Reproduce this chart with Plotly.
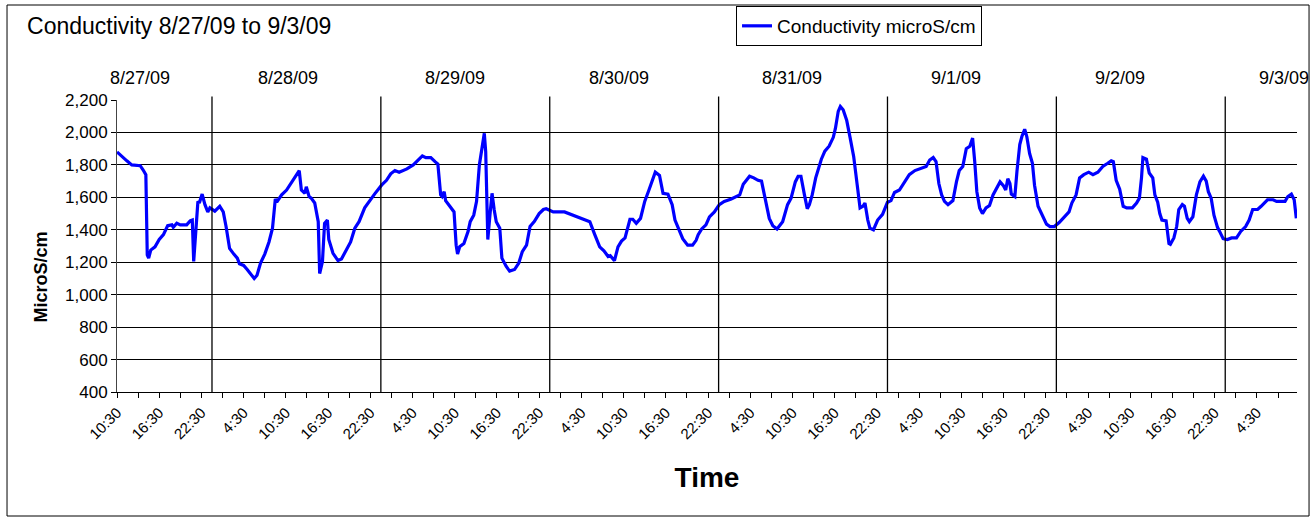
import pandas as pd
import plotly.graph_objects as go

# conductivity readings
# hours counted from the first reading (8/27/09 10:30)
start = pd.Timestamp("2009-08-27 10:30")
hours = [
    0.0, 0.7, 1.4, 2.1, 3.3, 3.7, 4.1, 4.3, 4.5, 4.8, 5.4, 6.0, 6.6, 7.2, 7.8, 8.0,
    8.5, 9.0, 9.9, 10.4, 10.7, 10.9, 11.5, 11.7, 12.1, 12.5, 12.9, 13.2, 13.9, 14.6,
    15.1, 15.5, 16.0, 16.6, 17.1, 17.4, 18.0, 18.5, 19.5, 19.9, 20.4, 21.0, 21.6,
    22.1, 22.5, 22.7, 23.4, 24.1, 24.8, 25.4, 25.9, 26.2, 26.7, 26.9, 27.3, 27.6,
    28.1, 28.6, 28.8, 29.2, 29.5, 29.9, 30.1, 30.7, 31.4, 31.9, 32.6, 33.2, 33.8,
    34.4, 35.2, 35.9, 36.6, 37.6, 38.3, 38.9, 39.5, 40.1, 40.7, 41.2, 42.1, 42.8,
    43.4, 43.9, 44.6, 45.2, 45.6, 46.0, 46.2, 46.5, 46.7, 47.3, 47.9, 48.2, 48.4,
    48.7, 49.3, 49.9, 50.2, 50.7, 51.1, 51.5, 51.9, 52.2, 52.4, 52.7, 53.0, 53.3,
    53.6, 53.9, 54.4, 54.7, 55.3, 55.8, 56.5, 57.1, 57.6, 58.2, 58.7, 59.3, 60.0,
    60.6, 61.0, 62.0, 63.6, 64.8, 66.0, 67.2, 67.9, 68.6, 69.2, 69.8, 70.1, 70.7,
    71.2, 71.7, 72.2, 72.9, 73.3, 73.8, 74.4, 75.0, 75.6, 76.1, 76.5, 77.1, 77.6,
    78.3, 78.9, 79.3, 79.9, 80.4, 81.1, 81.8, 82.3, 82.6, 83.1, 83.7, 84.2, 84.9,
    85.6, 86.3, 87.3, 88.0, 88.5, 89.0, 89.4, 89.9, 90.5, 91.1, 91.6, 92.1, 92.7,
    93.2, 93.8, 94.6, 95.3, 95.8, 96.4, 96.8, 97.2, 97.7, 98.1, 98.4, 98.8, 99.3,
    99.8, 100.1, 100.6, 101.2, 101.8, 102.1, 102.5, 102.8, 103.2, 103.7, 104.2,
    104.7, 105.2, 105.6, 106.0, 106.3, 106.7, 107.0, 107.5, 108.1, 108.8, 109.5,
    110.0, 110.5, 111.2, 111.9, 112.6, 113.4, 114.3, 115.0, 115.5, 116.0, 116.4,
    116.8, 117.2, 117.6, 118.1, 118.8, 119.3, 119.7, 120.2, 120.7, 121.2, 121.6,
    121.9, 122.2, 122.6, 123.0, 123.5, 124.0, 124.5, 125.0, 125.5, 126.0, 126.3,
    126.6, 126.9, 127.1, 127.6, 127.9, 128.3, 128.6, 129.0, 129.3, 129.7, 130.1,
    130.4, 130.9, 131.5, 132.1, 132.6, 133.2, 133.9, 134.6, 135.3, 135.7, 136.3,
    136.8, 137.4, 138.1, 138.7, 139.4, 140.1, 140.8, 141.3, 141.6, 142.0, 142.5,
    143.0, 143.5, 144.3, 144.9, 145.3, 145.6, 145.8, 146.3, 146.7, 147.2, 147.5,
    147.9, 148.2, 148.5, 149.1, 149.5, 149.7, 150.2, 150.6, 150.9, 151.4, 151.7,
    152.1, 152.4, 152.9, 153.4, 153.9, 154.4, 154.8, 155.1, 155.5, 155.9, 156.4,
    156.7, 157.2, 157.8, 158.4, 159.1, 159.7, 160.4, 160.9, 161.4, 162.1, 162.6,
    163.1, 163.5, 164.3, 164.8, 166.0, 166.4, 166.9, 167.3, 167.6,
]
conductivity = [
    1880, 1850, 1825, 1800, 1795, 1770, 1740, 1245, 1225, 1275, 1295, 1340, 1370, 1425, 1430, 1415,
    1440, 1430, 1430, 1455, 1460, 1205, 1575, 1565, 1620, 1555, 1510, 1535, 1515, 1545,
    1510, 1420, 1285, 1250, 1225, 1190, 1180, 1155, 1100, 1120, 1195, 1250, 1325,
    1410, 1590, 1570, 1615, 1645, 1695, 1730, 1765, 1645, 1625, 1665, 1605, 1595,
    1565, 1450, 1130, 1205, 1440, 1460, 1340, 1255, 1210, 1220, 1280, 1325, 1410,
    1450, 1535, 1580, 1620, 1675, 1705, 1745, 1765, 1755, 1765, 1775, 1800, 1830,
    1855, 1845, 1845, 1820, 1805, 1615, 1605, 1635, 1580, 1545, 1510, 1305, 1250,
    1295, 1315, 1390, 1450, 1490, 1575, 1800, 1900, 1995, 1880, 1340, 1490, 1625,
    1525, 1450, 1410, 1225, 1175, 1145, 1155, 1195, 1265, 1305, 1420, 1450, 1500,
    1525, 1530, 1510, 1510, 1490, 1470, 1450, 1370, 1295, 1270, 1235, 1240, 1210,
    1295, 1330, 1350, 1465, 1465, 1440, 1470, 1575, 1645, 1705, 1755, 1735, 1625,
    1620, 1555, 1460, 1400, 1345, 1305, 1305, 1335, 1370, 1405, 1430, 1480, 1510,
    1555, 1575, 1590, 1605, 1615, 1680, 1700, 1730, 1720, 1705, 1700, 1595, 1470,
    1425, 1405, 1450, 1555, 1595, 1695, 1730, 1730, 1615, 1530, 1555, 1615, 1720,
    1790, 1835, 1885, 1915, 1970, 2025, 2130, 2160, 2140, 2075, 1965,
    1850, 1675, 1535, 1545, 1565, 1460, 1410, 1400, 1460, 1495, 1570,
    1580, 1630, 1645, 1695, 1740, 1765, 1780, 1790, 1830, 1845, 1820,
    1685, 1615, 1575, 1555, 1580, 1695, 1765, 1790, 1900, 1915, 1965,
    1820, 1635, 1535, 1500, 1535, 1550, 1615, 1660, 1695, 1670, 1645,
    1715, 1685, 1620, 1605, 1760, 1925, 1975, 2020, 1975, 1870, 1810,
    1675, 1545, 1490, 1435, 1420, 1420, 1445, 1480, 1510, 1565, 1615,
    1720, 1740, 1755, 1740, 1755, 1790, 1810, 1825, 1820, 1705, 1650,
    1545, 1535, 1535, 1565, 1595, 1720, 1845, 1835, 1750, 1720, 1615,
    1570, 1500, 1460, 1455, 1315, 1310, 1350, 1420, 1525, 1555, 1545,
    1470, 1450, 1480, 1615, 1695, 1730, 1700, 1635, 1595, 1490, 1415,
    1390, 1345, 1340, 1350, 1350, 1390, 1420, 1460, 1525, 1525, 1545,
    1565, 1585, 1585, 1575, 1575, 1605, 1620, 1585, 1470,
]
day_labels = ["8/27/09", "8/28/09", "8/29/09", "8/30/09", "8/31/09", "9/1/09", "9/2/09", "9/3/09"]

times = start + pd.to_timedelta(hours, unit="h")
font = "Liberation Sans, Arial, sans-serif"

fig = go.Figure()
fig.add_trace(
    go.Scatter(
        x=times,
        y=conductivity,
        mode="lines",
        name="Conductivity microS/cm",
        line=dict(color="#0000FF", width=3.2),
    )
)

# day boundaries drawn as vertical lines
shapes = []
for day in pd.date_range("2009-08-28", "2009-09-03", freq="D"):
    shapes.append(dict(type="line", xref="x", yref="paper", x0=day, x1=day,
                       y0=0, y1=1.012, line=dict(color="black", width=1.3)))
# outer frame around the whole chart
shapes.append(dict(type="rect", xref="paper", yref="paper", x0=-0.0932, x1=1.0102,
                   y0=-0.4247, y1=1.3253, line=dict(color="black", width=1)))

# date labels above the plot (placed by hand, like the original)
label_offsets = [3.3, 24.3, 48.0, 71.4, 96.0, 119.3, 142.5, 165.9]
annotations = []
for lab, off in zip(day_labels, label_offsets):
    annotations.append(dict(x=start + pd.Timedelta(hours=off), y=1.075, xref="x", yref="paper",
                            text=lab, showarrow=False, yanchor="middle",
                            font=dict(family=font, size=18, color="black")))
annotations.append(dict(x=-0.075, y=0.394, xref="paper", yref="paper", text="<b>MicroS/cm</b>",
                        textangle=-90, showarrow=False,
                        font=dict(family=font, size=18, color="black")))

fig.update_layout(
    width=1312,
    height=518,
    margin=dict(l=117, r=15, t=100, b=126, autoexpand=False),
    paper_bgcolor="white",
    plot_bgcolor="white",
    font=dict(family=font, color="black"),
    title=dict(text="Conductivity 8/27/09 to 9/3/09", x=0.0206, xanchor="left",
               y=0.95, yanchor="middle", font=dict(size=23, color="black")),
    showlegend=True,
    legend=dict(x=0.5246, y=1.322, xanchor="left", yanchor="top", bordercolor="black",
                borderwidth=1, bgcolor="white", font=dict(size=19), tracegroupgap=0),
    shapes=shapes,
    annotations=annotations,
)
fig.update_xaxes(
    type="date",
    range=[start, start + pd.Timedelta(hours=167.7)],
    tickmode="linear",
    tick0=start,
    dtick=6 * 3600 * 1000,
    tickformat="%-H:%M",
    tickangle=-45,
    tickfont=dict(size=15),
    ticks="outside",
    ticklen=5,
    tickcolor="black",
    minor=dict(tick0=start, dtick=3 * 3600 * 1000, ticks="outside", ticklen=5, tickcolor="black"),
    showgrid=False,
    showline=True,
    linecolor="black",
    title=dict(text="<b>Time</b>", font=dict(size=28), standoff=25),
)
fig.update_yaxes(
    range=[400, 2200],
    dtick=200,
    tickformat=",d",
    tickfont=dict(size=17),
    ticks="outside",
    ticklen=5,
    tickcolor="black",
    showgrid=True,
    gridcolor="black",
    gridwidth=1,
    showline=True,
    linecolor="#444",
    zeroline=False,
)

# drop the browser's default page margin so the chart sits at the window edge
fig.write_html("out.html", config={"displayModeBar": False},
               post_script="document.body.style.margin='0';")
